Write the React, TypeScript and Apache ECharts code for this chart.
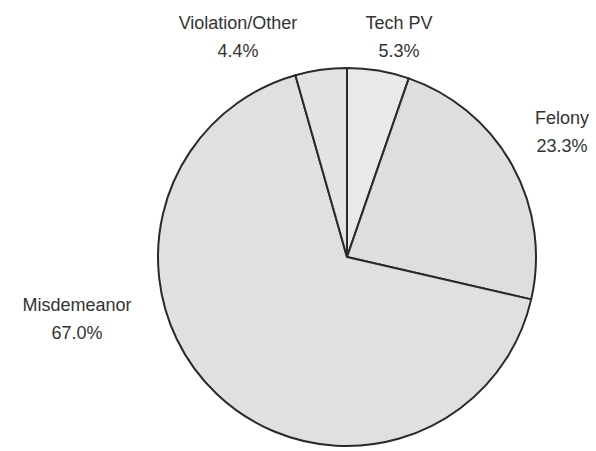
import React, { useEffect, useRef } from "react";
import * as echarts from "echarts";

const categories = ["Tech PV", "Felony", "Misdemeanor", "Violation/Other"];
const values = [5.3, 23.3, 67.0, 4.4];
const sliceColors = ["#e9e9e9", "#dedede", "#e0e0e0", "#e3e3e3"];
const labelAnchors: [number, number][] = [
  [399, 37],
  [562, 132],
  [77, 319],
  [238, 37],
];

export default function App() {
  const ref = useRef<HTMLDivElement>(null);
  useEffect(() => {
    if (!ref.current) return;
    const chart = echarts.init(ref.current, null, { renderer: "svg" });
    chart.setOption({
      animation: false,
      backgroundColor: "#ffffff",
      series: [
        {
          type: "pie",
          center: [347, 257],
          radius: [0, 189],
          startAngle: 90,
          clockwise: true,
          data: categories.map((c, i) => ({
            name: c,
            value: values[i],
            itemStyle: { color: sliceColors[i] },
          })),
          itemStyle: { borderColor: "#2a2a2a", borderWidth: 2 },
          label: { show: false },
          labelLine: { show: false },
          emphasis: { disabled: true },
        },
      ],
      graphic: categories.map((c, i) => ({
        type: "text",
        x: labelAnchors[i][0],
        y: labelAnchors[i][1],
        silent: true,
        style: {
          text: `${c}\n${values[i].toFixed(1)}%`,
          fontFamily: "Liberation Sans, Arial, sans-serif",
          fontSize: 18,
          lineHeight: 28,
          fill: "#333333",
          textAlign: "center",
          textVerticalAlign: "middle",
        },
      })),
    });
    return () => chart.dispose();
  }, []);
  return <div ref={ref} style={{ width: 596, height: 451, position: "absolute", left: 0, top: 0 }} />;
}
